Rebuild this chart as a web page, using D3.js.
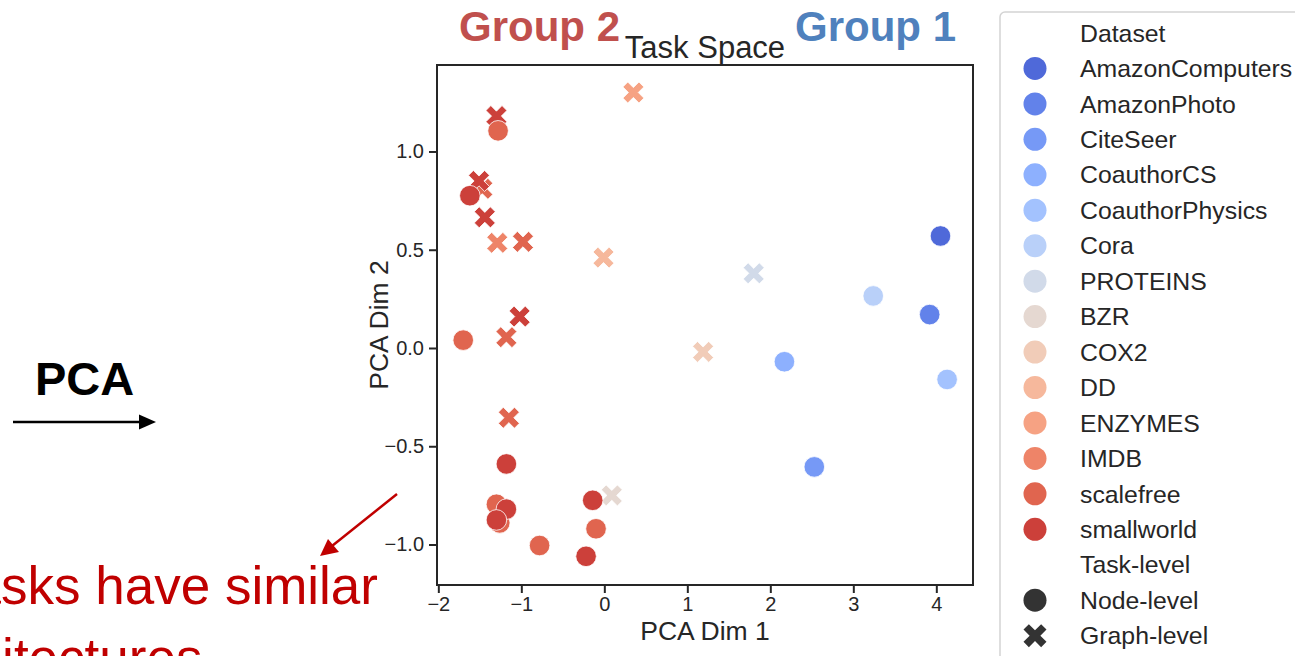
<!DOCTYPE html>
<html>
<head>
  <meta charset="utf-8">
  <title>Task Space</title>
  <script src="https://d3js.org/d3.v7.min.js"></script>
  <style>
    body { margin: 0; background: #fff; }
    svg { display: block; font-family: "Liberation Sans", Arial, sans-serif; }
  </style>
</head>
<body>
  <svg width="1295" height="656"></svg>
  <script>
    // datasets and their colours (coolwarm)
    var datasets = ["AmazonComputers", "AmazonPhoto", "CiteSeer", "CoauthorCS", "CoauthorPhysics", "Cora",
      "PROTEINS", "BZR", "COX2", "DD", "ENZYMES", "IMDB", "scalefree", "smallworld"];
    var palette = ["#4f69d9", "#6282ea", "#7699f6", "#8db0fe", "#a3c2fe", "#b9d0f9",
      "#d1dae9", "#e5d8d1", "#f1ccb8", "#f6b89c", "#f6a283", "#ee8468", "#e0654f", "#cc403a"];
    var levels = ["Node-level", "Graph-level"];

    // graph-level points: [dataset, dim1, dim2]
    var graphPoints = [
      ["ENZYMES", 0.35, 1.30],
      ["smallworld", -1.30, 1.18],
      ["scalefree", -1.47, 0.81],
      ["smallworld", -1.51, 0.85],
      ["smallworld", -1.44, 0.665],
      ["IMDB", -1.29, 0.535],
      ["scalefree", -0.98, 0.54],
      ["DD", -0.01, 0.46],
      ["smallworld", -1.02, 0.16],
      ["scalefree", -1.18, 0.055],
      ["COX2", 1.19, -0.02],
      ["scalefree", -1.15, -0.355],
      ["BZR", 0.09, -0.75],
      ["PROTEINS", 1.80, 0.38]
    ];

    // node-level points: [dataset, dim1, dim2]
    var nodePoints = [
      ["scalefree", -1.28, 1.105],
      ["scalefree", -1.70, 0.04],
      ["scalefree", -1.30, -0.795],
      ["scalefree", -1.26, -0.89],
      ["scalefree", -0.78, -1.005],
      ["scalefree", -0.10, -0.92],
      ["smallworld", -1.62, 0.775],
      ["smallworld", -1.18, -0.59],
      ["smallworld", -1.18, -0.82],
      ["smallworld", -1.30, -0.875],
      ["smallworld", -0.14, -0.775],
      ["smallworld", -0.22, -1.06],
      ["AmazonComputers", 4.05, 0.57],
      ["Cora", 3.24, 0.265],
      ["AmazonPhoto", 3.92, 0.17],
      ["CoauthorCS", 2.17, -0.07],
      ["CoauthorPhysics", 4.13, -0.16],
      ["CiteSeer", 2.53, -0.605]
    ];

    var xTicks = [-2, -1, 0, 1, 2, 3, 4];
    var yTicks = [-1.0, -0.5, 0.0, 0.5, 1.0];

    var svg = d3.select("svg");
    var ink = "#262626";

    var plot = { left: 437, right: 973, top: 65, bottom: 585 };
    var x = d3.scaleLinear().domain([-2.016, 4.442]).range([plot.left, plot.right]);
    var y = d3.scaleLinear().domain([-1.206, 1.44]).range([plot.bottom, plot.top]);
    var color = d3.scaleOrdinal().domain(datasets).range(palette);

    // filled "X" marker, half extent s
    function crossPath(s) {
      var h = s * 0.33, r = s * 1.414 - h;
      var pts = [[r, -h], [r, h], [h, h], [h, r], [-h, r], [-h, h], [-r, h], [-r, -h], [-h, -h], [-h, -r], [h, -r], [h, -h]];
      var c = Math.SQRT1_2;
      return "M" + pts.map(function (p) {
        return [(p[0] - p[1]) * c, (p[0] + p[1]) * c].join(",");
      }).join("L") + "Z";
    }

    // frame
    svg.append("rect")
      .attr("x", plot.left).attr("y", plot.top)
      .attr("width", plot.right - plot.left).attr("height", plot.bottom - plot.top)
      .attr("fill", "none").attr("stroke", ink).attr("stroke-width", 2);

    // axes
    var gx = svg.append("g")
      .attr("transform", "translate(0," + plot.bottom + ")")
      .call(d3.axisBottom(x).tickValues(xTicks).tickSize(8).tickPadding(4).tickFormat(d3.format("d")));
    var gy = svg.append("g")
      .attr("transform", "translate(" + plot.left + ",0)")
      .call(d3.axisLeft(y).tickValues(yTicks).tickSize(8).tickPadding(5).tickFormat(d3.format(".1f")));
    [gx, gy].forEach(function (g) {
      g.select(".domain").remove();
      g.selectAll(".tick line").attr("stroke", ink).attr("stroke-width", 2);
      g.selectAll(".tick text").attr("fill", ink).style("font-size", "20px")
        .style("font-family", "'Liberation Sans', Arial, sans-serif");
    });

    // points: graph-level first, then node-level
    svg.append("g").selectAll("path")
      .data(graphPoints)
      .enter().append("path")
      .attr("d", crossPath(10.5))
      .attr("transform", function (d) { return "translate(" + x(d[1]) + "," + y(d[2]) + ")"; })
      .attr("fill", function (d) { return color(d[0]); })
      .attr("stroke", "#fff").attr("stroke-width", 0.8);

    svg.append("g").selectAll("circle")
      .data(nodePoints)
      .enter().append("circle")
      .attr("cx", function (d) { return x(d[1]); })
      .attr("cy", function (d) { return y(d[2]); })
      .attr("r", 10.3)
      .attr("fill", function (d) { return color(d[0]); })
      .attr("stroke", "#fff").attr("stroke-width", 0.8);

    // labels
    svg.append("text").attr("x", (plot.left + plot.right) / 2).attr("y", 640)
      .attr("text-anchor", "middle").attr("fill", ink).style("font-size", "26.5px").text("PCA Dim 1");
    svg.append("text").attr("transform", "translate(388," + (plot.top + plot.bottom) / 2 + ") rotate(-90)")
      .attr("text-anchor", "middle").attr("fill", ink).style("font-size", "26.5px").text("PCA Dim 2");
    svg.append("text").attr("x", 705).attr("y", 58)
      .attr("text-anchor", "middle").attr("fill", ink).style("font-size", "31px").text("Task Space");
    svg.append("text").attr("x", 459).attr("y", 41)
      .attr("fill", "#c0504d").style("font-size", "42px").style("font-weight", "bold").text("Group 2");
    svg.append("text").attr("x", 795).attr("y", 41)
      .attr("fill", "#4f81bd").style("font-size", "42px").style("font-weight", "bold").text("Group 1");

    // legend
    var lg = svg.append("g");
    lg.append("rect").attr("x", 1000).attr("y", 12).attr("width", 330).attr("height", 680)
      .attr("rx", 5).attr("fill", "#fff").attr("stroke", "#d4d4d4").attr("stroke-width", 1.5);
    var rows = [{ label: "Dataset" }]
      .concat(datasets.map(function (d) { return { label: d, kind: "circle", fill: color(d) }; }))
      .concat([{ label: "Task-level" },
        { label: levels[0], kind: "circle", fill: "#333" },
        { label: levels[1], kind: "cross", fill: "#333" }]);
    var row = lg.selectAll(".row").data(rows).enter().append("g")
      .attr("class", "row")
      .attr("transform", function (d, i) { return "translate(0," + (33 + i * 35.45) + ")"; });
    row.filter(function (d) { return d.kind === "circle"; }).append("circle")
      .attr("cx", 1035).attr("r", 11.5).attr("fill", function (d) { return d.fill; });
    row.filter(function (d) { return d.kind === "cross"; }).append("path")
      .attr("d", crossPath(11.5)).attr("transform", "translate(1035,0)").attr("fill", function (d) { return d.fill; });
    row.append("text").attr("x", 1080).attr("dy", "0.35em").attr("fill", ink)
      .style("font-size", "24.8px").text(function (d) { return d.label; });

    // left annotations
    svg.append("text").attr("x", 35).attr("y", 395).attr("fill", "#000")
      .style("font-size", "47px").style("font-weight", "bold").text("PCA");
    svg.append("line").attr("x1", 13).attr("x2", 142).attr("y1", 422).attr("y2", 422)
      .attr("stroke", "#000").attr("stroke-width", 2.7);
    svg.append("path").attr("d", "M139,414.5L156,422L139,429.5Z").attr("fill", "#000");

    svg.append("line").attr("x1", 397).attr("y1", 494).attr("x2", 332).attr("y2", 546)
      .attr("stroke", "#c00000").attr("stroke-width", 2.5);
    svg.append("path").attr("d", "M320,556L328,539L339,552Z").attr("fill", "#c00000");
    svg.append("text").attr("x", 378).attr("y", 604).attr("text-anchor", "end")
      .attr("fill", "#c00000").style("font-size", "53px").text("Tasks have similar");
    svg.append("text").attr("x", -101).attr("y", 676)
      .attr("fill", "#c00000").style("font-size", "53px").text("architectures");
  </script>
</body>
</html>
